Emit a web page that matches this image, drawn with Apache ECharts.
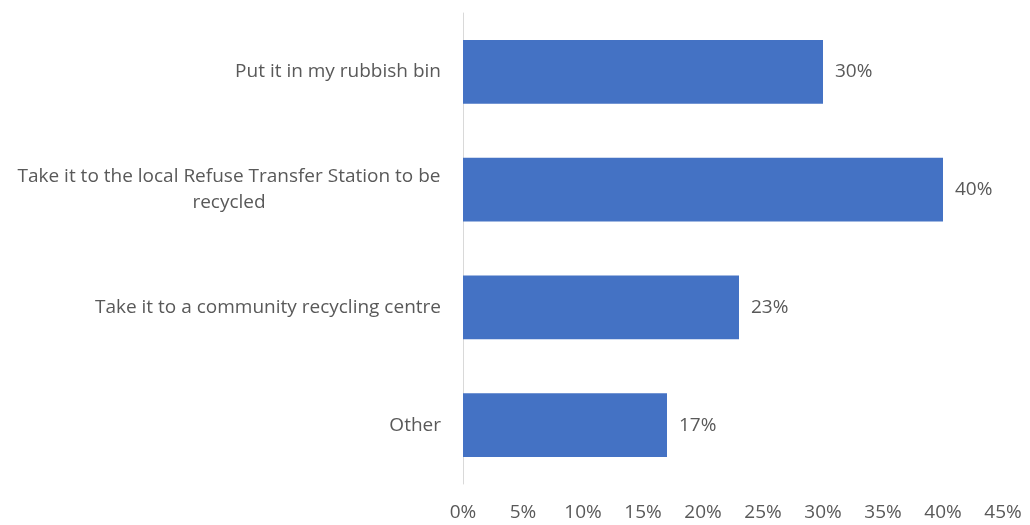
<!DOCTYPE html>
<html>
<head>
<meta charset="utf-8">
<script src="https://cdn.jsdelivr.net/npm/echarts@6/dist/echarts.min.js"></script>
<style>
  html, body { margin: 0; padding: 0; background: #ffffff; }
  #chart { width: 1030px; height: 525px; }
</style>
</head>
<body>
<div id="chart"></div>
<script>
// Survey responses: what people do with the item
const categories = [
  'Put it in my rubbish bin',
  'Take it to the local Refuse Transfer Station to be\nrecycled',
  'Take it to a community recycling centre',
  'Other'
];
const shares = [30, 40, 23, 17];
const xTicks = [0, 5, 10, 15, 20, 25, 30, 35, 40, 45];

const FONT = 'Open Sans';
const FONT_SIZE = 19;
const LINE_HEIGHT = 26;
const TEXT_COLOR = '#595959';

// Measure text so a wrapped label can centre its second line under the first
const measureCtx = document.createElement('canvas').getContext('2d');
measureCtx.font = FONT_SIZE + 'px "' + FONT + '"';
function textWidth(s) { return Math.ceil(measureCtx.measureText(s).width); }

const wrapWidth = Math.max.apply(null,
  categories.filter(c => c.indexOf('\n') >= 0)
            .map(c => c.split('\n')[0])
            .map(textWidth)
            .concat([0]));

function labelFormatter(value) {
  if (value.indexOf('\n') < 0) return value;
  return value.split('\n').map(l => '{c|' + l + '}').join('\n');
}

const chart = echarts.init(document.getElementById('chart'), null, { renderer: 'canvas' });
chart.setOption({
  animation: false,
  grid: { left: 463, right: 27, top: 13, bottom: 41, containLabel: false },
  xAxis: {
    type: 'value',
    min: 0,
    max: 45,
    interval: 5,
    axisLine: { show: false },
    axisTick: { show: false },
    splitLine: { show: false },
    axisLabel: {
      color: TEXT_COLOR,
      fontFamily: FONT,
      fontSize: FONT_SIZE,
      margin: 19,
      formatter: v => (xTicks.indexOf(v) >= 0 ? v + '%' : '')
    }
  },
  yAxis: {
    type: 'category',
    inverse: true,
    data: categories,
    axisLine: { show: true, lineStyle: { color: '#d9d9d9', width: 1 } },
    axisTick: { show: false },
    axisLabel: {
      color: TEXT_COLOR,
      fontFamily: FONT,
      fontSize: FONT_SIZE,
      margin: 22,
      lineHeight: LINE_HEIGHT,
      formatter: labelFormatter,
      rich: {
        c: {
          width: wrapWidth,
          align: 'center',
          color: TEXT_COLOR,
          fontFamily: FONT,
          fontSize: FONT_SIZE,
          lineHeight: LINE_HEIGHT
        }
      }
    }
  },
  series: [{
    type: 'bar',
    data: shares,
    barCategoryGap: '46%',
    itemStyle: { color: '#4472C4' },
    label: {
      show: true,
      position: 'right',
      distance: 12,
      color: TEXT_COLOR,
      fontFamily: FONT,
      fontSize: FONT_SIZE,
      formatter: p => p.value + '%'
    }
  }]
});
</script>
</body>
</html>
